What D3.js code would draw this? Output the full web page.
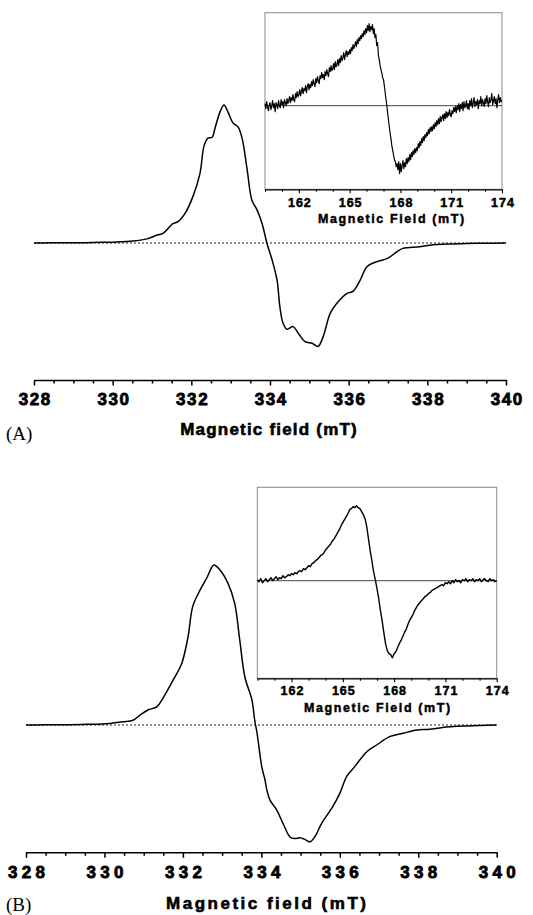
<!DOCTYPE html>
<html><head><meta charset="utf-8">
<script src="https://cdn.jsdelivr.net/npm/d3@7"></script>
<style>body{margin:0;background:#fff;} svg{display:block;}</style>
</head><body><svg id="c" width="533" height="915"></svg>
<script>
// ---- Data ----
const mainTicks = [328, 330, 332, 334, 336, 338, 340];
const insetTicks = [162, 165, 168, 171, 174];

const fieldA = [328.0, 328.5, 329.0, 329.5, 330.0, 330.36, 330.87, 331.13, 331.28, 331.53, 331.66, 331.84, 332.04, 332.22, 332.32, 332.42, 332.53, 332.60, 332.73, 332.83, 332.93, 333.06, 333.19, 333.29, 333.42, 333.54, 333.67, 333.80, 333.92, 334.05, 334.18, 334.25, 334.33, 334.43, 334.59, 334.71, 334.89, 335.07, 335.22, 335.35, 335.53, 335.70, 335.96, 336.11, 336.29, 336.47, 336.72, 337.0, 337.23, 337.38, 337.81, 338.14, 338.5, 339.0, 339.5, 340.0];
const signalA = [0, 0.2, 0.1, 0.4, 0.6, 1.0, 3, 5.8, 7, 14, 15.5, 21.5, 33.6, 50.5, 70, 76, 76.6, 83, 95, 100, 95, 87, 84, 76, 53, 31, 24, 14, 0, -12, -27, -46, -58, -62.5, -60.6, -65, -71.5, -72.7, -75, -68, -51, -43.7, -36.5, -35, -27, -17, -13.5, -11, -6.3, -3.9, -2.7, -1.2, -0.8, -0.3, -0.2, 0];

const fieldB = [328.0, 328.5, 329.0, 329.55, 330.14, 330.47, 330.73, 330.90, 331.11, 331.34, 331.49, 331.75, 331.97, 332.13, 332.25, 332.43, 332.61, 332.79, 332.94, 333.15, 333.32, 333.45, 333.58, 333.76, 333.83, 333.89, 334.01, 334.09, 334.14, 334.22, 334.39, 334.55, 334.73, 334.85, 334.98, 335.11, 335.24, 335.36, 335.54, 335.82, 336.0, 336.18, 336.38, 336.69, 336.94, 337.27, 337.61, 337.96, 338.29, 338.62, 339.24, 340.0];
const signalB = [0, 0.1, 0.2, 0.4, 1, 2, 3, 6, 9.4, 11.5, 16.7, 28, 38.5, 55, 74, 84, 92, 100, 97, 88.5, 76, 53, 30, 15.6, 3, -5, -26, -34, -40.6, -47, -53, -61.4, -70, -71, -70.5, -71.5, -73, -70, -61.4, -51, -42.7, -32, -26, -16.7, -12.5, -7.3, -5.2, -3.1, -2.7, -1.5, -0.6, 0];

// inset A: sampled every 0.05 mT from 160.00 to 174.00
const insetAStart = 160.0, insetAStep = 0.05;
const insetA = [
  2, -3, 4, -1, -5, 1, 3, -4, 0, 5, -2, 2, -6, 3, 1, -3, 5, 0, -2, 6,
  1, 4, -2, 6, 3, 0, 7, 2, 5, 9, 3, 8, 5, 11, 6, 4, 12, 8, 14, 9,
  11, 16, 10, 14, 18, 12, 17, 15, 20, 13, 19, 22, 16, 21, 18, 24, 20, 26, 22, 19,
  27, 23, 29, 25, 22, 30, 27, 33, 28, 31, 26, 34, 30, 36, 32, 29, 38, 34, 40, 35,
  37, 42, 36, 44, 39, 41, 46, 40, 47, 43, 50, 45, 48, 53, 46, 51, 55, 49, 54, 51,
  56, 52, 58, 55, 61, 57, 60, 64, 59, 66, 62, 68, 65, 70, 67, 72, 69, 75, 71, 77,
  73, 80, 75, 82, 74, 79, 76, 81, 72, 77, 68, 71, 60, 63, 50, 46, 40, 36, 33, 28,
  26, 20, 13, 6, 0, -8, -15, -22, -29, -34, -41, -45, -50, -54, -56, -61, -58, -64, -56, -68,
  -58, -66, -60, -55, -63, -57, -61, -53, -58, -52, -56, -49, -54, -47, -51, -45, -49, -43, -47, -42,
  -45, -38, -42, -36, -40, -33, -37, -31, -35, -29, -32, -27, -30, -24, -28, -22, -26, -21, -25, -19,
  -23, -17, -21, -15, -19, -13, -18, -11, -16, -12, -9, -15, -8, -13, -6, -12, -7, -10, -4, -9,
  -11, -5, -8, -2, -6, -1, -7, 0, -4, 2, -6, 1, -3, 3, -5, 4, -2, 0, 5, -3,
  2, -4, 5, 0, 7, -2, 3, 8, -1, 4, 1, 6, -3, 5, 2, 9, 0, 6, 3, -1,
  7, 2, 10, 4, -1, 8, 3, 6, 12, 1, 5, 9, 2, 7, -2, 6, 11, 3, 8, 4,
  5];
// inset B: sampled every 0.1 mT from 160.0 to 174.0
const insetBStart = 160.0, insetBStep = 0.1;
const insetB = [1, -1, 2, -2, 0, 2, -1, 1, 3, 0, 2, 4, 1, 3, 2, 5, 3, 4, 6, 5, 7,
  6, 8, 7, 9, 10, 9, 12, 11, 13, 15, 14, 17, 18, 20, 21, 23, 25, 26, 28, 31,
  33, 35, 37, 40, 42, 45, 48, 51, 55, 58, 61, 64, 67, 71, 72, 74, 73, 75, 73, 72,
  69, 66, 62, 54, 42, 30, 20, 9, 1, -8,
  -18, -30, -40, -52, -63, -70, -73, -74, -77, -73,
  -71, -67, -63, -60, -56, -52, -49, -44, -40, -37,
  -34, -30, -27, -24, -22, -20, -18, -16, -15, -13,
  -12, -10, -9, -8, -7, -6, -5, -4, -5, -2,
  -3, -1, -3, 0, -2, 1, -1, 0, -2, 1,
  0, 2, -1, 1, 0, 2, -1, 1, 0, 2,
  -1, 1, 2, 0, -1, 2, 0, 1, -1, 0];

// ---- Layout ----
const svg = d3.select("#c");
const bold = "'Liberation Sans', Arial, Helvetica, sans-serif";
const heavy = (sel, sw) => sel.style("font-family", bold).style("font-weight", "bold")
  .attr("fill", "#000").attr("stroke", "#000").attr("stroke-width", sw);

const panels = [
  { field: fieldA, signal: signalA, xr: [34, 506], axisY: 380, yDom: [-75, 100], yRng: [346.5, 105],
    lblY: 405, lblLS: 1.6, title: { x: 268.5, y: 435, ls: 1.2 }, tag: { t: "(A)", x: 6, y: 440 },
    inset: { data: insetA, start: insetAStart, step: insetAStep, sw: 1.2,
      xr: [265, 502], top: 12.7, bottom: 189.3, yDom: [-83.6, 93],
      lblY: 207, title: { x: 391, y: 222.5 } } },
  { field: fieldB, signal: signalB, xr: [26, 496.7], axisY: 852.3, yDom: [-73, 100], yRng: [841.8, 565],
    lblY: 878.3, lblLS: 4.3, title: { x: 266, y: 909, ls: 2.5 }, tag: { t: "(B)", x: 6, y: 911 },
    inset: { data: insetB, start: insetBStart, step: insetBStep, sw: 1.4,
      xr: [257.3, 496.7], top: 487.3, bottom: 678.3, yDom: [-97.6, 93.4],
      lblY: 695, title: { x: 377, y: 712.3 } } }
];

panels.forEach(p => {
  const x = d3.scaleLinear().domain([328, 340]).range(p.xr);
  const y = d3.scaleLinear().domain(p.yDom).range(p.yRng);
  const g = svg.append("g");

  // dotted baseline
  g.append("line").attr("x1", x(328)).attr("x2", x(340)).attr("y1", y(0)).attr("y2", y(0))
    .attr("stroke", "#222").attr("stroke-width", 1).attr("stroke-dasharray", "2,2");

  // spectrum
  const pts = p.field.map((f, i) => [f, p.signal[i]]);
  g.append("path").datum(pts)
    .attr("d", d3.line().x(d => x(d[0])).y(d => y(d[1])).curve(d3.curveCatmullRom.alpha(0.5)))
    .attr("fill", "none").attr("stroke", "#000").attr("stroke-width", 1.5);

  // axis: minor ticks
  const minor = d3.range(328, 340.001, 0.5).filter(v => Math.abs(v % 2) > 1e-6);
  g.append("g").attr("transform", `translate(0,${p.axisY})`)
    .call(d3.axisBottom(x).tickValues(minor).tickSize(3.5).tickSizeOuter(0).tickFormat(""))
    .call(a => a.select(".domain").remove())
    .call(a => a.selectAll("line").attr("stroke", "#000").attr("stroke-width", 1.5));
  // axis: major
  const ax = g.append("g").attr("transform", `translate(0,${p.axisY})`)
    .call(d3.axisBottom(x).tickValues(mainTicks).tickSize(5.5).tickSizeOuter(0).tickFormat(d3.format("d")));
  ax.select(".domain").attr("stroke", "#000").attr("stroke-width", 1.6);
  ax.selectAll("line").attr("stroke", "#000").attr("stroke-width", 1.5);
  ax.selectAll("text").attr("y", p.lblY - p.axisY).attr("dy", 0).attr("dx", p.lblLS / 2)
    .call(heavy, 0.8).style("font-size", "17px").style("letter-spacing", p.lblLS + "px");

  // titles
  g.append("text").attr("x", p.title.x + p.title.ls / 2).attr("y", p.title.y).attr("text-anchor", "middle")
    .call(heavy, 0.6).style("font-size", "17px")
    .style("letter-spacing", p.title.ls + "px").text("Magnetic field (mT)");
  g.append("text").attr("x", p.tag.x).attr("y", p.tag.y)
    .style("font-family", "'Liberation Serif', 'Times New Roman', serif").style("font-size", "19px")
    .text(p.tag.t);

  // ---- inset ----
  const I = p.inset;
  const xi = d3.scaleLinear().domain([160, 174]).range(I.xr);
  const yi = d3.scaleLinear().domain(I.yDom).range([I.bottom, I.top]);
  const gi = svg.append("g");
  gi.append("rect").attr("x", I.xr[0]).attr("y", I.top).attr("width", I.xr[1] - I.xr[0])
    .attr("height", I.bottom - I.top).attr("fill", "#fff").attr("stroke", "#8a8a8a").attr("stroke-width", 1);
  gi.append("line").attr("x1", xi(160)).attr("x2", xi(174)).attr("y1", yi(0)).attr("y2", yi(0))
    .attr("stroke", "#444").attr("stroke-width", 1);
  const ipts = I.data.map((v, i) => [I.start + i * I.step, v]);
  gi.append("path").datum(ipts)
    .attr("d", d3.line().x(d => xi(d[0])).y(d => yi(d[1])))
    .attr("fill", "none").attr("stroke", "#000").attr("stroke-width", I.sw).attr("stroke-linejoin", "round");

  const iminor = d3.range(160, 174.001, 1).filter(v => !insetTicks.includes(v));
  gi.append("g").attr("transform", `translate(0,${I.bottom})`)
    .call(d3.axisBottom(xi).tickValues(iminor).tickSize(2.5).tickSizeOuter(0).tickFormat(""))
    .call(a => a.select(".domain").remove())
    .call(a => a.selectAll("line").attr("stroke", "#000").attr("stroke-width", 1));
  const iax = gi.append("g").attr("transform", `translate(0,${I.bottom})`)
    .call(d3.axisBottom(xi).tickValues(insetTicks).tickSize(4).tickSizeOuter(0).tickFormat(d3.format("d")));
  iax.select(".domain").attr("stroke", "#000").attr("stroke-width", 1.3);
  iax.selectAll("line").attr("stroke", "#000").attr("stroke-width", 1.1);
  iax.selectAll("text").attr("y", I.lblY - I.bottom).attr("dy", 0).attr("dx", 0.5)
    .call(heavy, 0.5).style("font-size", "12.5px").style("letter-spacing", "1px");
  gi.append("text").attr("x", I.title.x + 0.8).attr("y", I.title.y).attr("text-anchor", "middle")
    .call(heavy, 0.45).style("font-size", "12.5px")
    .style("letter-spacing", "1.6px").text("Magnetic Field (mT)");
});
</script>
</body></html>
